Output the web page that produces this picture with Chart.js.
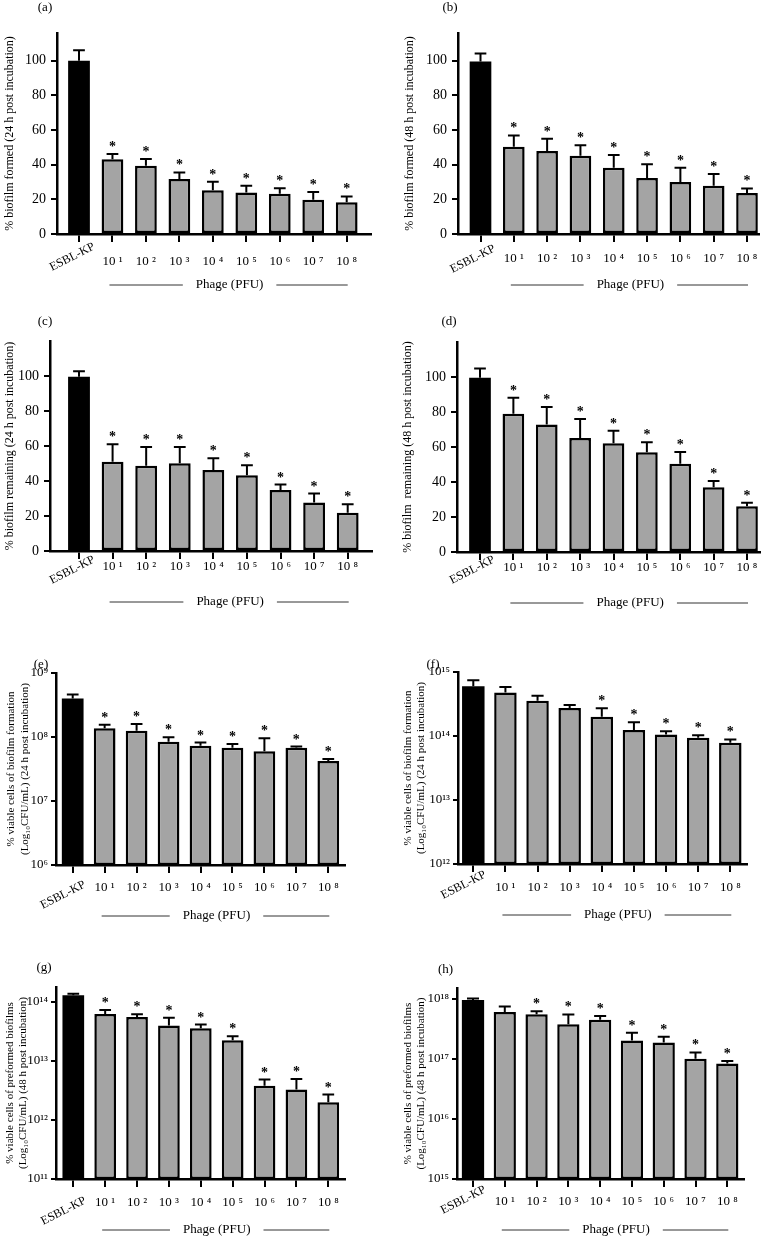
<!DOCTYPE html>
<html>
<head>
<meta charset="utf-8">
<script src="https://cdn.jsdelivr.net/npm/chart.js@4.4.1/dist/chart.umd.min.js"></script>
<style>
  html, body { margin: 0; padding: 0; background: #fff; }
  #fig { position: relative; width: 776px; height: 1241px; overflow: hidden; }
  .cell { position: absolute; }
</style>
</head>
<body>
<div id="fig"></div>
<script>
// ---- data ----
const xLabels = ['ESBL-KP', '10 ¹', '10 ²', '10 ³', '10 ⁴', '10 ⁵', '10 ⁶', '10 ⁷', '10 ⁸'];
const groupLabel = 'Phage (PFU)';

// (a) biofilm formed, 24 h
const formed24    = [100, 43.1, 39.4, 31.8, 25.2, 23.9, 23.2, 19.8, 18.3];
const formed24Err = [6, 3.1, 3.9, 3.7, 4.9, 3.9, 3.2, 4.5, 3.4];
// (b) biofilm formed, 48 h
const formed48    = [99.6, 50.4, 47.9, 45.2, 38.3, 32.3, 30, 27.9, 23.7];
const formed48Err = [4.5, 6.5, 7.1, 6, 7.3, 7.9, 8.3, 6.7, 2.6];
// (c) biofilm remaining, 24 h
const remain24    = [99.6, 51, 48.7, 50.2, 46.3, 43.3, 34.9, 27.7, 21.9];
const remain24Err = [3.1, 10, 10.7, 9.3, 6.7, 5.7, 3.1, 5.1, 4.8];
// (d) biofilm remaining, 48 h
const remain48    = [99.6, 79, 72.8, 65.1, 62.1, 57, 50.5, 37, 26.1];
const remain48Err = [5.2, 9.2, 10.1, 10.9, 7.2, 5.7, 6.6, 3.6, 2.1];
// (e) viable cells, biofilm formation 24 h (CFU/mL)
const viableForm24    = [4.0e8, 1.37e8, 1.25e8, 8.4e7, 7.3e7, 6.8e7, 6.0e7, 6.8e7, 4.2e7];
const viableForm24Err = [6e7, 1.8e7, 3.5e7, 1.5e7, 0.9e7, 1.0e7, 3.6e7, 0.3e7, 0.35e7];
// (f) viable cells, biofilm formation 24 h (CFU/mL)
const viableFormB    = [6.0e14, 4.8e14, 3.55e14, 2.75e14, 2.0e14, 1.24e14, 1.06e14, 9.4e13, 7.85e13];
const viableFormBErr = [1.4e14, 1.05e14, 0.7e14, 0.3e14, 0.72e14, 0.4e14, 0.13e14, 0.9e13, 1.0e13];
// (g) viable cells, preformed biofilms 48 h
const viablePre    = [1.3e14, 6.3e13, 5.6e13, 4.0e13, 3.6e13, 2.25e13, 3.8e12, 3.3e12, 2.0e12];
const viablePreErr = [0.08e14, 1.0e13, 0.6e13, 1.4e13, 0.55e13, 0.38e13, 1.05e12, 1.65e12, 0.7e12];
// (h) viable cells, preformed biofilms 48 h
const viablePreB    = [9.5e17, 6.0e17, 5.5e17, 3.75e17, 4.45e17, 2.0e17, 1.86e17, 1.0e17, 8.3e16];
const viablePreBErr = [0.5e17, 1.4e17, 0.65e17, 1.7e17, 0.7e17, 0.7e17, 0.45e17, 0.27e17, 0.9e16];

// significance markers
const starsAll = [false, true, true, true, true, true, true, true, true];
const starsF   = [false, false, false, false, true, true, true, true, true];
const starsH   = [false, false, true, true, true, true, true, true, true];

const titleA = '% biofilm formed (24 h post incubation)';
const titleB = '% biofilm formed (48 h post incubation)';
const titleC = '% biofilm remaining (24 h post incubation)';
const titleD = '% biofilm  remaining (48 h post incubation)';
const titleE = ['% viable cells of biofilm formation', '(Log₁₀CFU/mL) (24 h post incubation)'];
const titleG = ['% viable cells of preformed biofilms', '(Log₁₀CFU/mL) (48 h post incubation)'];

// ---- styling / layout ----
const SERIF = "'Liberation Serif', 'DejaVu Serif', serif";
Chart.defaults.font.family = SERIF;
Chart.defaults.color = '#000';

const SUP = '⁰¹²³⁴⁵⁶⁷⁸⁹';
function sup(n) {
    return String(n).split('').map(d => SUP[+d]).join('');
}
function isDecade(v) {
    const l = Math.log10(v);
    return Math.abs(l - Math.round(l)) < 1e-6;
}

// box = cell on the page, plot = [left, top, right, bottom] of the axes (page px)
const panels = [
    { tag: '(a)', values: formed24, errors: formed24Err, stars: starsAll, title: titleA, log: false, yMin: 0, yMax: 116,
      box: [0, 0, 388, 305], plot: [57, 33, 371, 234], centers: [79, 346.7], barPct: 0.65,
      tagXY: [45, 8], titlePad: 3, tickPad: 12, esbl: [15, 12] },
    { tag: '(b)', values: formed48, errors: formed48Err, stars: starsAll, title: titleB, log: false, yMin: 0, yMax: 116,
      box: [388, 0, 388, 305], plot: [458, 33, 759, 234], centers: [480.5, 747], barPct: 0.65,
      tagXY: [62, 8], titlePad: 14.5, tickPad: 9, esbl: [14, 14] },
    { tag: '(c)', values: remain24, errors: remain24Err, stars: starsAll, title: titleC, log: false, yMin: 0, yMax: 120,
      box: [0, 305, 388, 305], plot: [50, 341, 372, 551], centers: [79, 347.7], barPct: 0.65,
      tagXY: [45, 17], titlePad: 3, tickPad: 0, esbl: [15, 8] },
    { tag: '(d)', values: remain48, errors: remain48Err, stars: starsAll, title: titleD, log: false, yMin: 0, yMax: 120,
      box: [388, 305, 388, 305], plot: [457, 342, 760, 552], centers: [480, 747], barPct: 0.65,
      tagXY: [61, 17], titlePad: 13, tickPad: 0, esbl: [14, 7] },
    { tag: '(e)', values: viableForm24, errors: viableForm24Err, stars: starsAll, title: titleE, log: true, yMin: 1e6, yMax: 1e9,
      box: [0, 610, 388, 315], plot: [56, 673, 345, 865], centers: [72.7, 328.3], barPct: 0.68,
      tagXY: [41, 55], titlePad: 5, tickPad: 7, esbl: [12, 19] },
    { tag: '(f)', values: viableFormB, errors: viableFormBErr, stars: starsF, title: titleE, log: true, yMin: 1e12, yMax: 1e15,
      box: [388, 610, 388, 315], plot: [458, 672, 747, 864], centers: [473.3, 730.3], barPct: 0.7,
      tagXY: [45, 55], titlePad: 13.4, tickPad: 8, esbl: [12, 10] },
    { tag: '(g)', values: viablePre, errors: viablePreErr, stars: starsAll, title: titleG, log: true, yMin: 1e11, yMax: 1.8e14,
      box: [0, 925, 388, 316], plot: [56, 987, 345, 1179], centers: [73.3, 328.3], barPct: 0.68,
      tagXY: [44, 43], titlePad: 3.4, tickPad: 8, esbl: [12, 21] },
    { tag: '(h)', values: viablePreB, errors: viablePreBErr, stars: starsH, title: titleG, log: true, yMin: 1e15, yMax: 1.5e18,
      box: [388, 925, 388, 316], plot: [457, 988, 744, 1179], centers: [473, 727.3], barPct: 0.7,
      tagXY: [57.5, 45], titlePad: 13.4, tickPad: 7, esbl: [12, 10] }
];

function errorBarPlugin(p) {
    return {
        id: 'errorBars',
        afterDatasetsDraw(chart) {
            const meta = chart.getDatasetMeta(0);
            const ys = chart.scales.y;
            const ctx = chart.ctx;
            ctx.save();
            ctx.strokeStyle = '#000';
            ctx.fillStyle = '#000';
            ctx.lineWidth = 2;
            ctx.font = 'bold 14px ' + SERIF;
            ctx.textAlign = 'center';
            ctx.textBaseline = 'alphabetic';
            meta.data.forEach((bar, i) => {
                const v = p.values[i];
                const yTop = ys.getPixelForValue(v + p.errors[i]);
                const yBar = ys.getPixelForValue(v);
                const half = bar.width * 0.27;
                ctx.beginPath();
                ctx.moveTo(bar.x, yBar);
                ctx.lineTo(bar.x, yTop);
                ctx.moveTo(bar.x - half, yTop);
                ctx.lineTo(bar.x + half, yTop);
                ctx.stroke();
                if (p.stars[i]) {
                    ctx.fillText('*', bar.x, yTop - 3);
                }
            });
            ctx.restore();
        }
    };
}

function decorPlugin(p) {
    return {
        id: 'decor',
        afterDraw(chart) {
            const ctx = chart.ctx;
            const xs = chart.scales.x;
            const base = chart.chartArea.bottom;
            const c0 = xs.getPixelForValue(0);
            const c1 = xs.getPixelForValue(1);
            const c8 = xs.getPixelForValue(8);
            ctx.save();
            ctx.fillStyle = '#000';

            ctx.font = '13px ' + SERIF;
            ctx.textAlign = 'center';
            ctx.textBaseline = 'middle';
            ctx.fillText(p.tag, p.tagXY[0], p.tagXY[1]);

            // control label is the only slanted one
            ctx.save();
            ctx.translate(c0 + p.esbl[0], base + p.esbl[1]);
            ctx.rotate(-27 * Math.PI / 180);
            ctx.font = '12px ' + SERIF;
            ctx.textAlign = 'right';
            ctx.fillText(xLabels[0], 0, 0);
            ctx.restore();

            // group label with rules either side
            const ty = base + 51;
            const mid = (c1 + c8) / 2;
            ctx.font = '13px ' + SERIF;
            const w = ctx.measureText(groupLabel).width;
            ctx.fillText(groupLabel, mid, ty);
            ctx.strokeStyle = '#333';
            ctx.lineWidth = 1;
            ctx.beginPath();
            ctx.moveTo(c1 - 3, ty);
            ctx.lineTo(mid - w / 2 - 13, ty);
            ctx.moveTo(mid + w / 2 + 13, ty);
            ctx.lineTo(c8 + 1, ty);
            ctx.stroke();
            ctx.restore();
        }
    };
}

function buildPanel(p) {
    const [bx, by, bw, bh] = p.box;
    const [L, T, R, B] = p.plot;
    const wrap = document.createElement('div');
    wrap.className = 'cell';
    wrap.style.left = bx + 'px';
    wrap.style.top = by + 'px';
    wrap.style.width = bw + 'px';
    wrap.style.height = bh + 'px';
    const canvas = document.createElement('canvas');
    wrap.appendChild(canvas);
    document.getElementById('fig').appendChild(wrap);

    const unit = (p.centers[1] - p.centers[0]) / 8;
    const xMin = -(p.centers[0] - L) / unit;
    const xMax = 8 + (R - p.centers[1]) / unit;

    const axisGrid = { display: true, drawOnChartArea: false, drawTicks: true, color: '#000', lineWidth: 2 };

    const yScale = {
        type: p.log ? 'logarithmic' : 'linear',
        min: p.yMin,
        max: p.yMax,
        afterFit: s => { s.width = L - bx; },
        grid: Object.assign({}, axisGrid, { tickLength: p.log ? 5 : 6 }),
        border: { display: true, color: '#000', width: 2.5 },
        title: {
            display: true,
            text: p.title,
            font: { size: p.log ? 11 : 12 },
            padding: { top: p.titlePad, bottom: 0 }
        }
    };
    if (p.log) {
        yScale.afterBuildTicks = s => { s.ticks = s.ticks.filter(t => isDecade(t.value)); };
        yScale.ticks = { font: { size: 13 }, padding: 3, callback: v => '10' + sup(Math.round(Math.log10(v))) };
    } else {
        // axis runs past 100 but is only labelled up to 100
        yScale.afterBuildTicks = s => { s.ticks = s.ticks.filter(t => t.value <= 100); };
        yScale.ticks = { stepSize: 20, includeBounds: false, font: { size: 14 }, padding: 5 };
    }

    new Chart(canvas, {
        type: 'bar',
        data: {
            datasets: [{
                data: p.values.map((v, i) => ({ x: i, y: v })),
                backgroundColor: p.values.map((v, i) => i === 0 ? '#000000' : '#a4a4a4'),
                borderColor: '#000',
                borderWidth: p.values.map((v, i) => i === 0 ? 0 : 2.5),
                borderSkipped: false,
                barPercentage: p.barPct,
                categoryPercentage: 1
            }]
        },
        options: {
            responsive: true,
            maintainAspectRatio: false,
            animation: false,
            layout: { padding: { left: 0, top: T - by, right: bx + bw - R, bottom: 0 } },
            plugins: { legend: { display: false }, tooltip: { enabled: false } },
            scales: {
                x: {
                    type: 'linear',
                    min: xMin,
                    max: xMax,
                    offset: false,
                    afterFit: s => { s.height = by + bh - B; },
                    grid: Object.assign({}, axisGrid, { offset: false, tickLength: 8 }),
                    border: { display: true, color: '#000', width: 2.5 },
                    ticks: {
                        stepSize: 1,
                        includeBounds: false,
                        autoSkip: false,
                        maxRotation: 0,
                        minRotation: 0,
                        padding: p.tickPad,
                        font: { size: 13 },
                        callback: v => (v === 0 ? '' : xLabels[v])
                    }
                },
                y: yScale
            }
        },
        plugins: [errorBarPlugin(p), decorPlugin(p)]
    });
}

panels.forEach(buildPanel);
</script>
</body>
</html>
